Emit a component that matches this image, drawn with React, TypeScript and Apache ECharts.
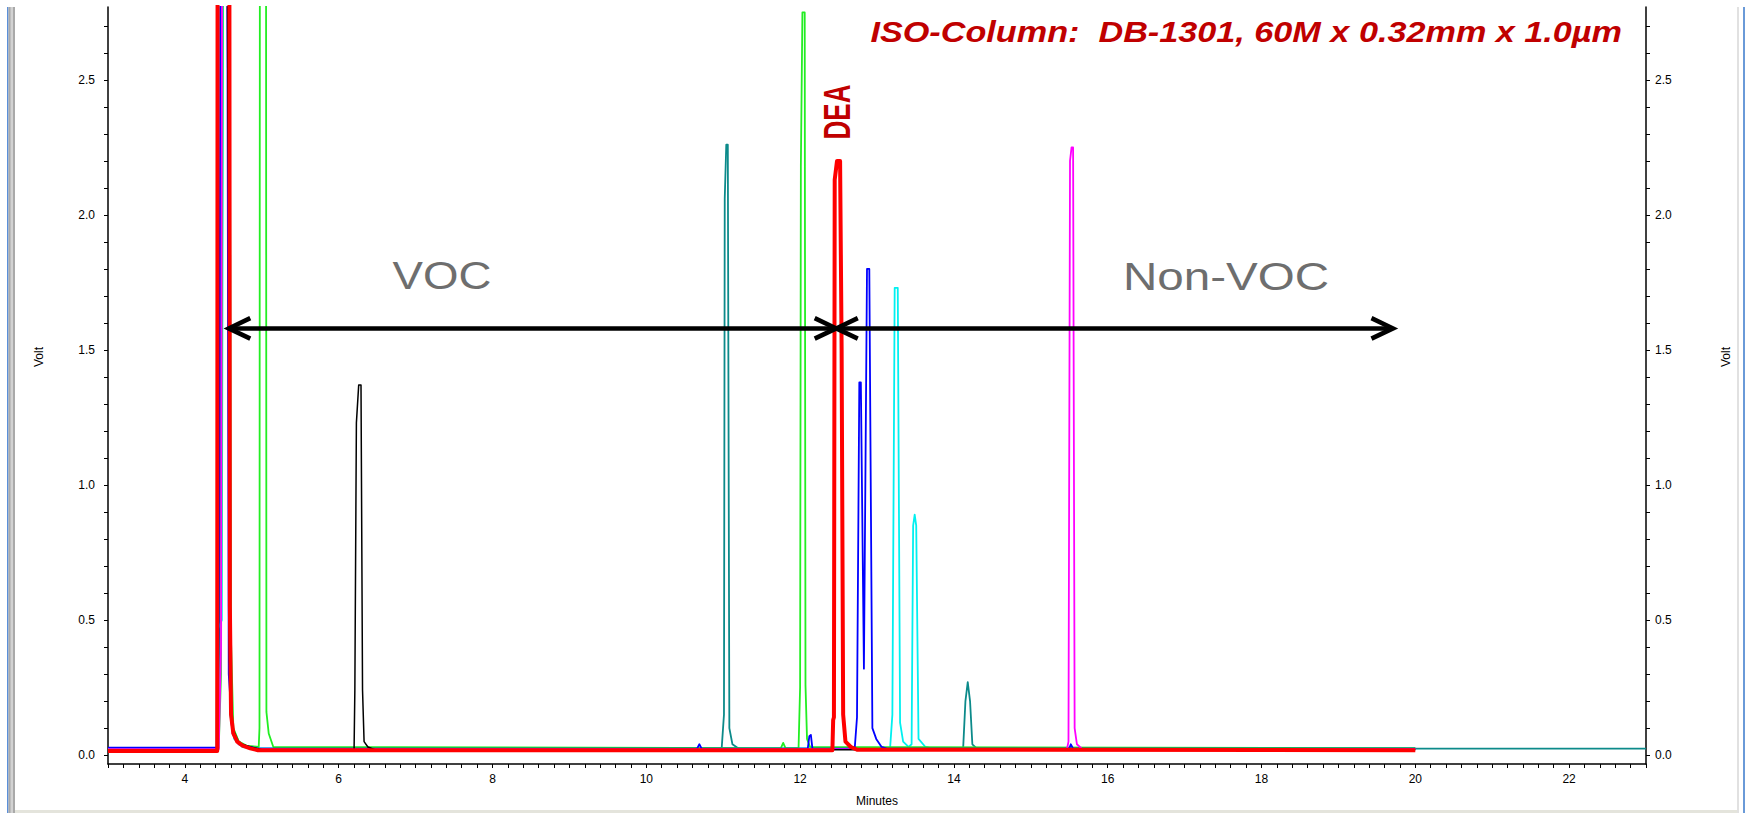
import React, { useEffect, useRef } from "react";
import * as echarts from "echarts";

// ---- axis labels / ticks ----
const xLabelValues = [4, 6, 8, 10, 12, 14, 16, 18, 20, 22];
const yLabelValues = [0, 0.5, 1, 1.5, 2, 2.5];
const xMinorTicks = Array.from({ length: 101 }, (_, i) => +(3 + i * 0.2).toFixed(1));
const yMinorTicks = Array.from({ length: 28 }, (_, i) => +(i * 0.1).toFixed(1));

// ---- chromatogram traces: [minutes, volt] ----
const tealTrace = [
  [3, 0.024], [4.43, 0.024], [4.46, 0.9], [4.5, 6], [4.55, 6], [4.56, 2.33], [4.58, 0.3],
  [4.62, 0.1], [4.7, 0.05], [4.8, 0.03], [4.95, 0.024], [10.98, 0.024], [11.01, 0.15],
  [11.02, 2.06], [11.04, 2.26], [11.06, 2.26], [11.08, 0.1], [11.12, 0.04], [11.2, 0.024],
  [14.12, 0.024], [14.15, 0.2], [14.18, 0.27], [14.21, 0.2], [14.24, 0.04], [14.3, 0.024], [23, 0.024],
];
const cyanTrace = [
  [3, 0.025], [4.41, 0.025], [4.42, 0.46], [4.48, 0.5], [4.52, 6], [4.56, 6], [4.59, 0.15],
  [4.64, 0.06], [4.75, 0.03], [4.9, 0.025], [13.17, 0.025], [13.2, 0.15], [13.23, 1.73],
  [13.27, 1.73], [13.3, 0.12], [13.34, 0.05], [13.41, 0.03], [13.45, 0.04], [13.47, 0.85],
  [13.49, 0.89], [13.51, 0.85], [13.54, 0.06], [13.63, 0.03], [13.71, 0.025], [20, 0.025],
];
const greenTrace = [
  [3, 0.026], [4.44, 0.026], [4.47, 0.3], [4.52, 6], [4.56, 6], [4.6, 0.42], [4.63, 0.1],
  [4.7, 0.05], [4.8, 0.035], [4.96, 0.03], [4.97, 0.1], [4.98, 6], [5.05, 6], [5.06, 0.16],
  [5.09, 0.08], [5.15, 0.03], [11.75, 0.026], [11.78, 0.045], [11.81, 0.026], [11.98, 0.026],
  [12.0, 0.25], [12.01, 2.18], [12.03, 2.75], [12.06, 2.75], [12.07, 0.26], [12.09, 0.06],
  [12.13, 0.03], [20, 0.026],
];
const blueTrace = [
  [3, 0.028], [4.43, 0.028], [4.45, 1.0], [4.48, 6], [4.53, 6], [4.57, 0.3], [4.62, 0.08],
  [4.7, 0.04], [4.85, 0.03], [4.95, 0.024], [10.66, 0.024], [10.69, 0.04], [10.72, 0.024],
  [12.1, 0.024], [12.12, 0.07], [12.14, 0.075], [12.16, 0.025], [12.71, 0.024], [12.74, 0.14],
  [12.77, 1.38], [12.79, 1.38], [12.83, 0.32], [12.87, 1.8], [12.9, 1.8], [12.94, 0.1],
  [12.99, 0.06], [13.06, 0.03], [13.13, 0.024], [15.5, 0.024], [15.52, 0.04], [15.55, 0.024],
  [20, 0.024],
];
const magentaTrace = [
  [3, 0.022], [4.44, 0.022], [4.47, 0.4], [4.5, 6], [4.56, 6], [4.58, 0.55], [4.6, 0.12],
  [4.65, 0.06], [4.75, 0.035], [4.9, 0.022], [15.47, 0.022], [15.49, 0.05], [15.51, 2.2],
  [15.53, 2.25], [15.55, 2.25], [15.57, 0.1], [15.6, 0.04], [15.67, 0.022], [20, 0.022],
];
const blackTrace = [
  [3, 0.02], [4.42, 0.02], [4.43, 1.38], [4.45, 6], [4.5, 6], [4.56, 2.35], [4.57, 2.05],
  [4.58, 0.35], [4.62, 0.1], [4.7, 0.045], [4.85, 0.03], [5.0, 0.02], [6.2, 0.02],
  [6.21, 0.24], [6.23, 1.23], [6.26, 1.37], [6.29, 1.37], [6.31, 0.24], [6.33, 0.05],
  [6.38, 0.03], [6.47, 0.02], [20, 0.02],
];
const redTrace = [
  [3, 0.015], [4.42, 0.015], [4.43, 6], [4.57, 6], [4.585, 0.55], [4.6, 0.15], [4.63, 0.08],
  [4.68, 0.05], [4.75, 0.035], [4.85, 0.025], [4.95, 0.018], [12.42, 0.018], [12.43, 0.13],
  [12.44, 0.14], [12.45, 2.13], [12.48, 2.2], [12.52, 2.2], [12.54, 1.5], [12.56, 0.15],
  [12.59, 0.05], [12.66, 0.03], [12.74, 0.02], [20, 0.018],
];

const traces = [
  { name: "teal", color: "#0c8a8a", width: 1.8, data: tealTrace },
  { name: "cyan", color: "#00f0f0", width: 1.8, data: cyanTrace },
  { name: "green", color: "#22ee22", width: 1.8, data: greenTrace },
  { name: "blue", color: "#0000ff", width: 1.8, data: blueTrace },
  { name: "magenta", color: "#ff00ff", width: 1.8, data: magentaTrace },
  { name: "black", color: "#000000", width: 1.5, data: blackTrace },
  { name: "red", color: "#ff0000", width: 4, data: redTrace },
];

// ---- annotation arrows (data coordinates) ----
const vocShaft = [[4.57, 1.58], [12.47, 1.58]];
const vocLeftHead = [[4.85, 1.618], [4.57, 1.58], [4.85, 1.542]];
const vocRightHead = [[12.19, 1.618], [12.47, 1.58], [12.19, 1.542]];
const nonVocShaft = [[12.47, 1.58], [19.71, 1.58]];
const nonVocLeftHead = [[12.75, 1.618], [12.47, 1.58], [12.75, 1.542]];
const nonVocRightHead = [[19.43, 1.618], [19.71, 1.58], [19.43, 1.542]];
const arrowParts = [vocShaft, vocLeftHead, vocRightHead, nonVocShaft, nonVocLeftHead, nonVocRightHead];

const titleText = "ISO-Column:  DB-1301, 60M x 0.32mm x 1.0µm";
const FONT = "'Liberation Sans', Arial, sans-serif";

export default function App() {
  const ref = useRef<HTMLDivElement>(null);

  useEffect(() => {
    document.body.style.margin = "0";
    const chart = echarts.init(ref.current!, undefined, { renderer: "svg" });

    const axisLabelStyle = { color: "#000", fontSize: 12, fontFamily: FONT };
    const yAxisBase = {
      type: "value",
      min: -0.033,
      max: 2.77,
      splitLine: { show: false },
      axisLine: { show: true, onZero: false, lineStyle: { color: "#000", width: 1.5 } },
      axisTick: { show: true, customValues: yMinorTicks, length: 4, lineStyle: { color: "#000", width: 1 } },
    };

    const series: any[] = traces.map((t) => ({
      type: "line",
      name: t.name,
      data: t.data,
      showSymbol: false,
      symbol: "none",
      silent: true,
      clip: true,
      lineStyle: { color: t.color, width: t.width, join: "round" },
    }));
    arrowParts.forEach((p, i) => {
      series.push({
        type: "line",
        name: "arrow" + i,
        data: p,
        showSymbol: false,
        symbol: "none",
        silent: true,
        z: 5,
        lineStyle: { color: "#000", width: 4.5, join: "miter", cap: "butt" },
      });
    });

    chart.setOption({
      animation: false,
      backgroundColor: "#ffffff",
      grid: { left: 108, right: 106, top: 7, bottom: 49 },
      xAxis: {
        type: "value",
        min: 3,
        max: 23,
        splitLine: { show: false },
        axisLine: { show: true, onZero: false, lineStyle: { color: "#000", width: 1.5 } },
        axisTick: { show: true, customValues: xMinorTicks, length: 4, lineStyle: { color: "#000", width: 1 } },
        axisLabel: { ...axisLabelStyle, customValues: xLabelValues, margin: 9 },
        name: "Minutes",
        nameLocation: "middle",
        nameGap: 31,
        nameTextStyle: { color: "#000", fontSize: 12, fontFamily: FONT },
      },
      yAxis: [
        {
          ...yAxisBase,
          position: "left",
          axisLabel: { ...axisLabelStyle, customValues: yLabelValues, margin: 13, formatter: (v: number) => v.toFixed(1) },
        },
        {
          ...yAxisBase,
          position: "right",
          axisLabel: { ...axisLabelStyle, customValues: yLabelValues, margin: 9, formatter: (v: number) => v.toFixed(1) },
        },
      ],
      series,
      graphic: [
        { type: "rect", shape: { x: 7, y: 7, width: 1.5, height: 806 }, style: { fill: "#5b8fd8" }, silent: true },
        { type: "rect", shape: { x: 8.5, y: 7, width: 6.5, height: 806 }, style: { fill: "#a9a9a9" }, silent: true },
        { type: "rect", shape: { x: 10.5, y: 7, width: 2.5, height: 806 }, style: { fill: "#d2d2d2" }, silent: true },
        { type: "rect", shape: { x: 1737.5, y: 7, width: 1, height: 806 }, style: { fill: "#c4c4c4" }, silent: true },
        { type: "rect", shape: { x: 1743, y: 7, width: 2, height: 806 }, style: { fill: "#6a9ad8" }, silent: true },
        { type: "rect", shape: { x: 15, y: 810, width: 1722, height: 3 }, style: { fill: "#e4e4dc" }, silent: true },
        {
          type: "text", x: 1622, y: 31.5, scaleX: 1.18, silent: true,
          style: { text: titleText, align: "right", verticalAlign: "middle", fontSize: 29, fontWeight: "bold", fontStyle: "italic", fontFamily: FONT, fill: "#c00000" },
        },
        {
          type: "text", x: 442, y: 276, scaleX: 1.17, silent: true,
          style: { text: "VOC", align: "center", verticalAlign: "middle", fontSize: 39, fontFamily: FONT, fill: "#6e6e6e" },
        },
        {
          type: "text", x: 1226, y: 277, scaleX: 1.22, silent: true,
          style: { text: "Non-VOC", align: "center", verticalAlign: "middle", fontSize: 39, fontFamily: FONT, fill: "#6e6e6e" },
        },
        {
          type: "text", x: 837, y: 112, rotation: Math.PI / 2, scaleX: 0.93, scaleY: 1.35, silent: true,
          style: { text: "DEA", align: "center", verticalAlign: "middle", fontSize: 28, fontWeight: "bold", fontFamily: FONT, fill: "#c00000" },
        },
        {
          type: "text", x: 39, y: 357, rotation: Math.PI / 2, silent: true,
          style: { text: "Volt", align: "center", verticalAlign: "middle", fontSize: 12, fontFamily: FONT, fill: "#000" },
        },
        {
          type: "text", x: 1726, y: 357, rotation: Math.PI / 2, silent: true,
          style: { text: "Volt", align: "center", verticalAlign: "middle", fontSize: 12, fontFamily: FONT, fill: "#000" },
        },
      ],
    });

    return () => chart.dispose();
  }, []);

  return (
    <div
      ref={ref}
      style={{ position: "absolute", left: 0, top: 0, width: 1752, height: 813, background: "#fff" }}
    />
  );
}
